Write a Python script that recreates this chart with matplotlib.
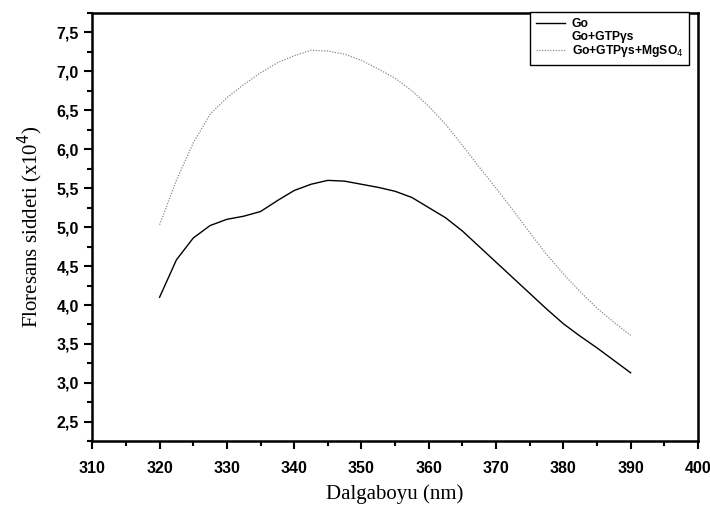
import matplotlib
matplotlib.use("Agg")
import matplotlib.pyplot as plt
from matplotlib.ticker import MultipleLocator, FuncFormatter

# wavelength (nm)
wavelength = [320, 322.5, 325, 327.5, 330, 332.5, 335, 337.5, 340, 342.5, 345,
              347.5, 350, 352.5, 355, 357.5, 360, 362.5, 365, 367.5, 370,
              372.5, 375, 377.5, 380, 382.5, 385, 387.5, 390]
# fluorescence intensity (x10^4)
go = [4.10, 4.58, 4.86, 5.02, 5.10, 5.14, 5.20, 5.34, 5.47, 5.55, 5.60,
      5.59, 5.55, 5.51, 5.46, 5.38, 5.25, 5.12, 4.95, 4.75, 4.55,
      4.35, 4.15, 3.95, 3.76, 3.60, 3.45, 3.29, 3.13]
go_gtp = []  # not visible in the original figure
go_gtp_mg = [5.03, 5.60, 6.08, 6.45, 6.66, 6.83, 6.98, 7.11, 7.20, 7.27, 7.26,
             7.22, 7.14, 7.03, 6.91, 6.75, 6.55, 6.32, 6.05, 5.77, 5.50,
             5.22, 4.93, 4.65, 4.40, 4.17, 3.96, 3.78, 3.61]

labels = ["Go", "Go+GTP\u03b3s", "Go+GTP\u03b3s+MgSO$_4$"]

fig = plt.figure(figsize=(7.1, 5.15), dpi=100)
ax = fig.add_axes([0.130, 0.143, 0.853, 0.832])

ax.plot(wavelength, go, color="black", lw=1.0, label=labels[0])
ax.plot(go_gtp, go_gtp, color="none", lw=1.0, label=labels[1])
ax.plot(wavelength, go_gtp_mg, color="#8a8a8a", lw=0.9, ls=(0, (1, 1.2)), label=labels[2])

ax.set_xlim(310, 400)
ax.set_ylim(2.25, 7.75)
ax.xaxis.set_major_locator(MultipleLocator(10))
ax.xaxis.set_minor_locator(MultipleLocator(5))
ax.yaxis.set_major_locator(MultipleLocator(0.5))
ax.yaxis.set_minor_locator(MultipleLocator(0.25))
ax.yaxis.set_major_formatter(FuncFormatter(lambda v, p: ("%.1f" % v).replace(".", ",")))

ax.tick_params(which="both", direction="out", top=False, right=False, width=1.5)
ax.tick_params(which="major", length=6)
ax.tick_params(which="minor", length=3.5)
ax.tick_params(axis="x", pad=8)
for lab in ax.get_xticklabels() + ax.get_yticklabels():
    lab.set_fontfamily("Liberation Sans")
    lab.set_fontweight("bold")
    lab.set_fontsize(11.5)
for s in ax.spines.values():
    s.set_linewidth(1.8)

ax.set_xlabel("Dalgaboyu (nm)", fontfamily="Liberation Serif", fontsize=15, labelpad=6)
ax.set_ylabel("Floresans siddeti (x10$^4$)", fontfamily="Liberation Serif", fontsize=15, labelpad=8)

leg = ax.legend(loc="upper right", bbox_to_anchor=(0.996, 1.016), fancybox=False,
                framealpha=1, edgecolor="black", handlelength=2.4, handletextpad=0.6,
                borderpad=0.5, labelspacing=0.05,
                prop={"family": "Liberation Sans", "weight": "bold", "size": 8.7})
leg.get_frame().set_linewidth(1.0)

fig.savefig("out.png", dpi=100)
